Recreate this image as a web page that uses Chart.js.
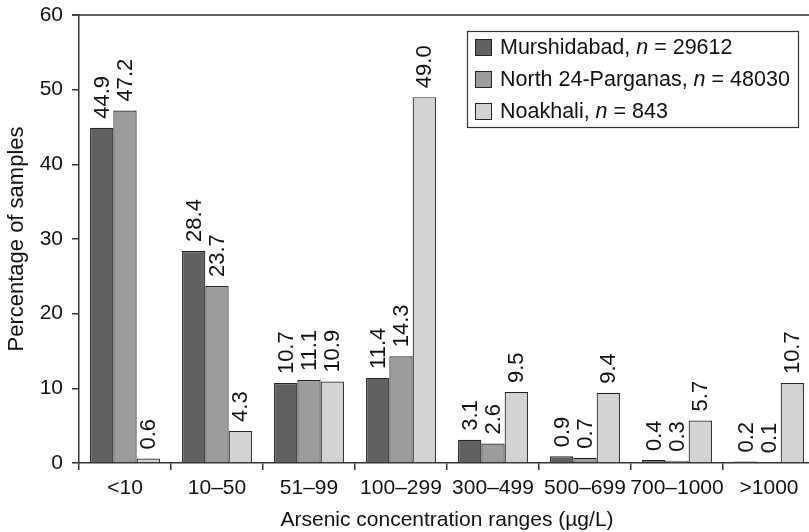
<!DOCTYPE html>
<html>
<head>
<meta charset="utf-8">
<script src="https://cdn.jsdelivr.net/npm/chart.js@4/dist/chart.umd.min.js"></script>
<style>
  html, body { margin: 0; padding: 0; background: #fff; overflow: hidden; }
  #wrap { width: 820px; height: 532px; position: relative; }
</style>
</head>
<body>
<div id="wrap"><canvas id="c"></canvas></div>
<script>
// Arsenic concentration ranges (µg/L)
const categories = ['<10', '10\u201350', '51\u201399', '100\u2013299', '300\u2013499', '500\u2013699', '700\u20131000', '>1000'];

// Percentage of samples in each range
const murshidabad = [44.9, 28.4, 10.7, 11.4, 3.1, 0.9, 0.4, 0.2];
const north24Parganas = [47.2, 23.7, 11.1, 14.3, 2.6, 0.7, 0.3, 0.1];
const noakhali = [0.6, 4.3, 10.9, 49.0, 9.5, 9.4, 5.7, 10.7];

// Legend entries: district name and sample count
const districtNames = ['Murshidabad', 'North 24-Parganas', 'Noakhali'];
const sampleCounts = [29612, 48030, 843];

const yTicks = [0, 10, 20, 30, 40, 50, 60];

const FONT = '"Liberation Sans", Arial, Helvetica, sans-serif';
const fills = ['#616161', '#9c9c9c', '#d3d3d3'];
const ink = '#222222';
const axisInk = '#333333';

// Rotated value labels above each bar
const valueLabels = {
  id: 'valueLabels',
  afterDatasetsDraw(chart) {
    const ctx = chart.ctx;
    ctx.save();
    ctx.font = '22px ' + FONT;
    ctx.fillStyle = '#111';
    ctx.textAlign = 'left';
    ctx.textBaseline = 'middle';
    chart.data.datasets.forEach((ds, di) => {
      const meta = chart.getDatasetMeta(di);
      meta.data.forEach((bar, i) => {
        ctx.save();
        ctx.translate(bar.x, bar.y - 9);
        ctx.rotate(-Math.PI / 2);
        ctx.fillText(ds.data[i].toFixed(1), 0, 1);
        ctx.restore();
      });
    });
    ctx.restore();
  }
};

// Frame line along the top of the plot and the boxed legend
const frameAndLegend = {
  id: 'frameAndLegend',
  afterDraw(chart) {
    const ctx = chart.ctx;
    const a = chart.chartArea;
    ctx.save();
    ctx.strokeStyle = axisInk;
    ctx.lineWidth = 1.5;
    ctx.beginPath();
    ctx.moveTo(a.left - 7, a.top);
    ctx.lineTo(a.right + 10, a.top);
    ctx.stroke();

    // legend box
    const bx = a.right - 348, by = a.top + 16, bw = 331, bh = 96;
    ctx.fillStyle = '#fff';
    ctx.fillRect(bx, by, bw, bh);
    ctx.lineWidth = 1.2;
    ctx.strokeStyle = axisInk;
    ctx.strokeRect(bx + 0.5, by + 0.5, bw, bh);

    const regular = '21.5px ' + FONT;
    const italic = 'italic 21.5px ' + FONT;
    ctx.textBaseline = 'middle';
    ctx.textAlign = 'left';
    districtNames.forEach((name, i) => {
      const cy = by + 16 + i * 32;
      ctx.fillStyle = fills[i];
      ctx.fillRect(bx + 8, cy - 8, 16, 16);
      ctx.lineWidth = 1;
      ctx.strokeStyle = ink;
      ctx.strokeRect(bx + 8.5, cy - 7.5, 16, 16);
      ctx.fillStyle = '#111';
      let x = bx + 33;
      ctx.font = regular;
      const p1 = name + ', ';
      ctx.fillText(p1, x, cy + 1);
      x += ctx.measureText(p1).width;
      ctx.font = italic;
      ctx.fillText('n', x, cy + 1);
      x += ctx.measureText('n').width;
      ctx.font = regular;
      ctx.fillText(' = ' + sampleCounts[i], x, cy + 1);
    });
    ctx.restore();
  }
};

new Chart(document.getElementById('c'), {
  type: 'bar',
  data: {
    labels: categories,
    datasets: [
      { label: districtNames[0], data: murshidabad, backgroundColor: fills[0] },
      { label: districtNames[1], data: north24Parganas, backgroundColor: fills[1] },
      { label: districtNames[2], data: noakhali, backgroundColor: fills[2] }
    ].map(d => Object.assign(d, { borderColor: ink, borderWidth: 1.2, borderSkipped: 'bottom' }))
  },
  options: {
    responsive: true,
    maintainAspectRatio: false,
    animation: false,
    devicePixelRatio: 1,
    layout: { padding: { top: 15, right: 5, left: 0, bottom: 0 } },
    datasets: { bar: { categoryPercentage: 0.76, barPercentage: 1.0 } },
    plugins: {
      legend: { display: false },
      tooltip: { enabled: false }
    },
    scales: {
      x: {
        afterFit(s) { s.height = 69; s.paddingLeft = 0; s.paddingRight = 0; },
        grid: { display: true, drawOnChartArea: false, drawTicks: true, tickLength: 7, color: axisInk, lineWidth: 1.5, offset: true },
        border: { display: true, color: axisInk, width: 1.5 },
        ticks: { color: '#111', font: { family: FONT, size: 21 }, padding: 6, maxRotation: 0, autoSkip: false },
        title: { display: true, text: 'Arsenic concentration ranges (\u00b5g/L)', color: '#111', font: { family: FONT, size: 21 }, padding: { top: 0, bottom: -1 } }
      },
      y: {
        min: 0,
        max: 60,
        afterFit(s) { s.width = 79; s.paddingTop = 0; s.paddingBottom = 0; },
        afterBuildTicks(s) { s.ticks = yTicks.map(v => ({ value: v })); },
        grid: { display: true, drawOnChartArea: false, drawTicks: true, tickLength: 7, color: axisInk, lineWidth: 1.5 },
        border: { display: true, color: axisInk, width: 1.5 },
        ticks: { color: '#111', font: { family: FONT, size: 21 }, padding: 9 },
        title: { display: true, text: 'Percentage of samples', color: '#111', font: { family: FONT, size: 22 }, padding: { top: 4, bottom: 0 } }
      }
    }
  },
  plugins: [valueLabels, frameAndLegend]
});
</script>
</body>
</html>
